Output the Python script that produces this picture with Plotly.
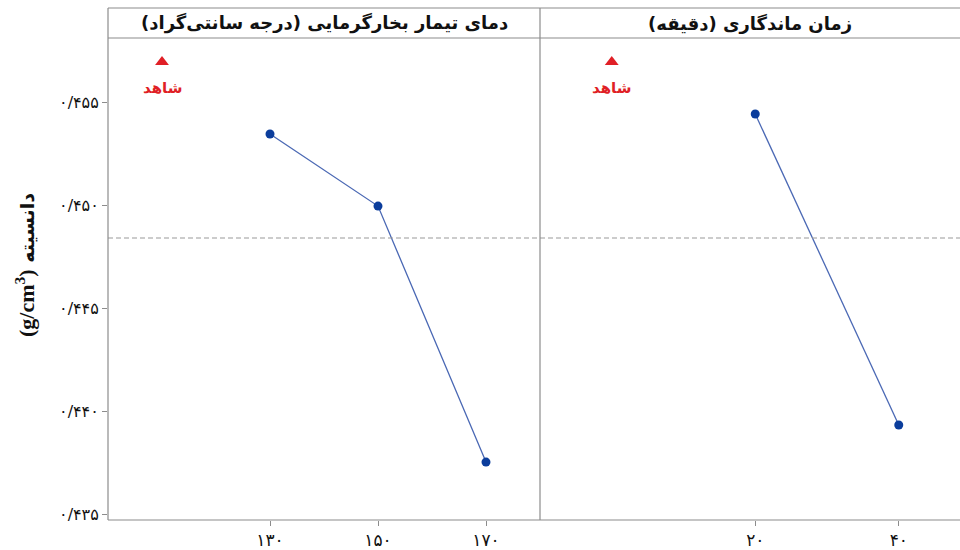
import plotly.graph_objects as go

# Main-effects data: mean density for each factor level
temp_labels = ["۱۳۰", "۱۵۰", "۱۷۰"]
temp_density = [0.45345, 0.44995, 0.43752]

time_labels = ["۲۰", "۴۰"]
time_density = [0.45442, 0.43932]

control_label = "شاهد"
control_density = 0.45694
mean_density = 0.4484

y_ticks = [0.435, 0.440, 0.445, 0.450, 0.455]
y_tick_labels = ["۰/۴۳۵", "۰/۴۴۰", "۰/۴۴۵", "۰/۴۵۰", "۰/۴۵۵"]

panel_titles = ["دمای تیمار بخارگرمایی (درجه سانتی‌گراد)", "زمان ماندگاری (دقیقه)"]
y_title_word = "دانسیته"
y_title_unit = "(g/cm<sup>3</sup>)"

RLM = "\u200f"
FONT = "DejaVu Sans"
SERIF = "Liberation Serif"
LINE_COLOR = "#4a68b4"
MARK_COLOR = "#0b3d9c"
RED = "#e01f26"
FRAME = "#8c8c8c"

W, H = 960, 550
ML, MR, MT, MB = 108, 0, 38, 30
pw = W - ML - MR
ph = H - MT - MB
split = (540 - ML) / pw

fig = go.Figure()

# factor level lines
fig.add_trace(go.Scatter(
    x=list(range(1, len(temp_density) + 1)), y=temp_density,
    mode="lines+markers", xaxis="x", yaxis="y",
    line=dict(color=LINE_COLOR, width=1.3),
    marker=dict(color=MARK_COLOR, size=9), showlegend=False, hoverinfo="skip"))
fig.add_trace(go.Scatter(
    x=list(range(1, len(time_density) + 1)), y=time_density,
    mode="lines+markers", xaxis="x2", yaxis="y2",
    line=dict(color=LINE_COLOR, width=1.3),
    marker=dict(color=MARK_COLOR, size=9), showlegend=False, hoverinfo="skip"))

# control markers
for xa, ya in (("x", "y"), ("x2", "y2")):
    fig.add_trace(go.Scatter(
        x=[0], y=[control_density], mode="markers",
        xaxis=xa, yaxis=ya,
        marker=dict(symbol="triangle-up", color=RED, size=12),
        showlegend=False, hoverinfo="skip"))

yrange = [0.43471, 0.45811]

axis_common = dict(showgrid=False, zeroline=False, ticks="outside", ticklen=5,
                   tickcolor=FRAME, tickwidth=1, showline=False)

fig.update_layout(
    width=W, height=H,
    margin=dict(l=ML, r=MR, t=MT, b=MB),
    paper_bgcolor="white", plot_bgcolor="white",
    xaxis=dict(domain=[0, split], range=[-0.5, 3.5],
               tickvals=list(range(1, len(temp_labels) + 1)), ticktext=temp_labels,
               tickfont=dict(family=FONT, size=17, color="#111"), **axis_common),
    xaxis2=dict(domain=[split, 1], range=[-0.5, -0.5 + (W - 540) / 143.5],
                tickvals=list(range(1, len(time_labels) + 1)), ticktext=time_labels,
                tickfont=dict(family=FONT, size=17, color="#111"), **axis_common),
    yaxis=dict(range=yrange, tickvals=y_ticks, ticktext=y_tick_labels, anchor="x",
               tickfont=dict(family=FONT, size=16, color="#111"), **axis_common),
    yaxis2=dict(range=yrange, anchor="x2", showticklabels=False, showgrid=False,
                zeroline=False, ticks=""),
)

strip_top = 1 + (MT - 8) / ph

shapes = [
    # overall mean reference
    dict(type="line", xref="paper", yref="y", x0=0, x1=1,
         y0=mean_density, y1=mean_density,
         line=dict(color="#9a9a9a", width=1.2, dash="5px,3px")),
    # panel frames and strip
    dict(type="line", xref="paper", yref="paper", x0=0, x1=1, y0=0, y1=0,
         line=dict(color=FRAME, width=1.2)),
    dict(type="line", xref="paper", yref="paper", x0=0, x1=1, y0=1, y1=1,
         line=dict(color=FRAME, width=1.2)),
    dict(type="line", xref="paper", yref="paper", x0=0, x1=1, y0=strip_top, y1=strip_top,
         line=dict(color=FRAME, width=1.2)),
    dict(type="line", xref="paper", yref="paper", x0=0, x1=0, y0=0, y1=strip_top,
         line=dict(color=FRAME, width=1.2)),
    dict(type="line", xref="paper", yref="paper", x0=split, x1=split, y0=0, y1=strip_top,
         line=dict(color=FRAME, width=1.2)),
]
fig.update_layout(shapes=shapes)

strip_mid = 1 + (MT - 23) / ph
annotations = [
    dict(xref="paper", yref="paper", x=split / 2, y=strip_mid,
         text="<b>" + RLM + panel_titles[0] + RLM + "</b>", showarrow=False,
         font=dict(family=FONT, size=18, color="#111"), xanchor="center", yanchor="middle"),
    dict(xref="paper", yref="paper", x=(split + 1) / 2, y=strip_mid,
         text="<b>" + RLM + panel_titles[1] + RLM + "</b>", showarrow=False,
         font=dict(family=FONT, size=18, color="#111"), xanchor="center", yanchor="middle"),
    dict(xref="paper", yref="paper", x=(25 - ML) / pw, y=(H - MB - 265) / ph,
         text="<b><span style='font-family:" + SERIF + ";font-size:22px'>" + y_title_unit
              + "</span> " + y_title_word + "</b>",
         textangle=-90, showarrow=False,
         font=dict(family=FONT, size=19, color="#111"), xanchor="center", yanchor="middle"),
]
# control labels under the triangles
for xa, ya in (("x", "y"), ("x2", "y2")):
    annotations.append(dict(
        xref=xa, yref=ya, x=0, y=control_density, yshift=-26,
        text="<b>" + control_label + "</b>", showarrow=False,
        font=dict(family=FONT, size=15, color=RED), xanchor="center", yanchor="middle"))
fig.update_layout(annotations=annotations)

fig.write_html("out.html")
